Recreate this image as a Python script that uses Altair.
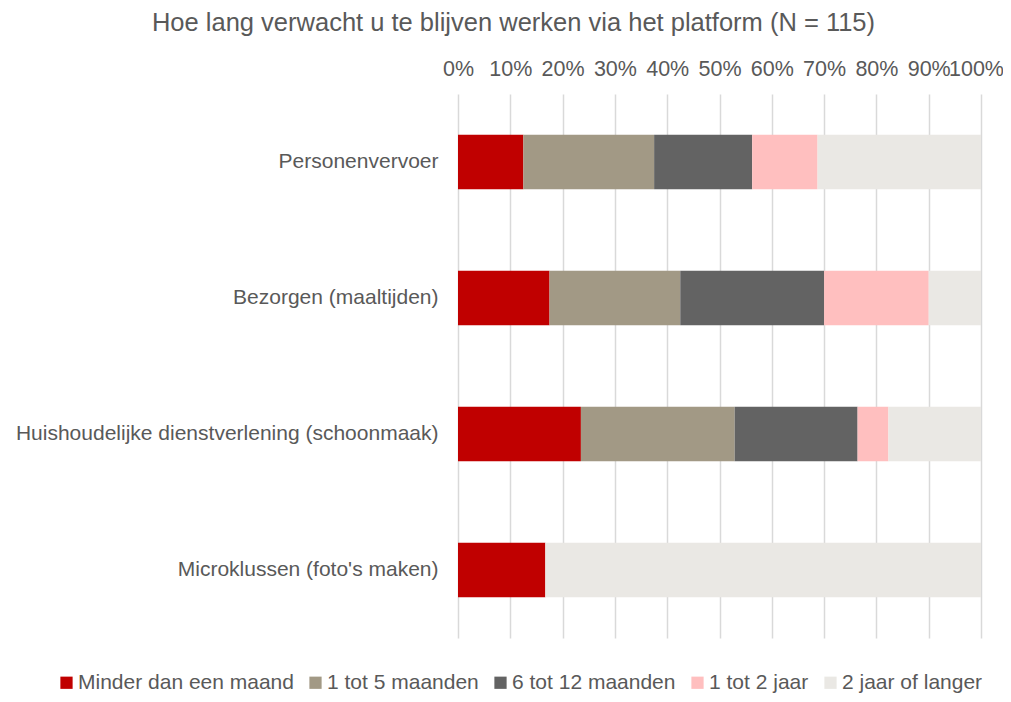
import altair as alt
import pandas as pd

categories = [
    "Personenvervoer",
    "Bezorgen (maaltijden)",
    "Huishoudelijke dienstverlening (schoonmaak)",
    "Microklussen (foto's maken)",
]
series = [
    "Minder dan een maand",
    "1 tot 5 maanden",
    "6 tot 12 maanden",
    "1 tot 2 jaar",
    "2 jaar of langer",
]
# percentages per category, in series order
minder_dan_een_maand = [12.5, 17.5, 23.5, 16.7]
een_tot_5_maanden = [25.0, 25.0, 29.4, 0.0]
zes_tot_12_maanden = [18.75, 27.5, 23.5, 0.0]
een_tot_2_jaar = [12.5, 20.0, 5.9, 0.0]
twee_jaar_of_langer = [31.25, 10.0, 17.7, 83.3]
colors = ["#C00000", "#A29985", "#636363", "#FFBFBF", "#EAE8E4"]
tick_values = [0, 10, 20, 30, 40, 50, 60, 70, 80, 90, 100]

values_by_series = [
    minder_dan_een_maand,
    een_tot_5_maanden,
    zes_tot_12_maanden,
    een_tot_2_jaar,
    twee_jaar_of_langer,
]
rows = []
for si, (s, vals) in enumerate(zip(series, values_by_series)):
    for c, v in zip(categories, vals):
        rows.append({"categorie": c, "reeks": s, "waarde": v, "volgorde": si})
df = pd.DataFrame(rows)

FONT = "Liberation Sans"
TXT = "#595959"
FS = 21.5

chart = (
    alt.Chart(df)
    .mark_bar()
    .encode(
        y=alt.Y(
            "categorie:N",
            sort=categories,
            title=None,
            scale=alt.Scale(paddingInner=0.6, paddingOuter=0.3),
            axis=alt.Axis(
                labelFont=FONT,
                labelFontSize=21,
                labelColor=TXT,
                labelPadding=20,
                ticks=False,
                domain=False,
                labelLimit=600,
            ),
        ),
        x=alt.X(
            "waarde:Q",
            stack="zero",
            title=None,
            scale=alt.Scale(domain=[0, 100], nice=False),
            axis=alt.Axis(
                orient="top",
                values=tick_values,
                labelExpr="datum.value + '%'",
                labelFont=FONT,
                labelFontSize=FS,
                labelColor=TXT,
                labelPadding=14,
                labelOverlap=False,
                labelBound=False,
                labelFlush=False,
                labelOffset={"condition": {"test": "datum.value == 100", "value": -5}, "value": 0},
                ticks=False,
                domain=False,
                grid=True,
                gridColor="#D9D9D9",
                gridWidth=1.5,
            ),
        ),
        color=alt.Color(
            "reeks:N",
            sort=series,
            scale=alt.Scale(domain=series, range=colors),
            legend=alt.Legend(
                title=None,
                orient="none",
                direction="horizontal",
                legendX=-402,
                legendY=578,
                symbolType="square",
                symbolSize=150,
                symbolStrokeWidth=0,
                labelFont=FONT,
                labelFontSize=21,
                labelColor=TXT,
                labelOffset=1,
                labelLimit=600,
                columnPadding=11,
            ),
        ),
        order=alt.Order("volgorde:Q", sort="ascending"),
    )
    .properties(
        width=523,
        height=544,
        autosize=alt.AutoSizeParams(type="none"),
        padding={"left": 450, "top": 86, "right": 22, "bottom": 56},
        title=alt.TitleParams(
            "Hoe lang verwacht u te blijven werken via het platform (N = 115)",
            font=FONT,
            fontSize=25.5,
            fontWeight="normal",
            color=TXT,
            anchor="middle",
            frame="group",
            dx=-206,
            offset=22,
        ),
    )
    .configure_view(stroke=None)
)

chart.save("out.html", embed_options={"renderer": "svg", "actions": False})
